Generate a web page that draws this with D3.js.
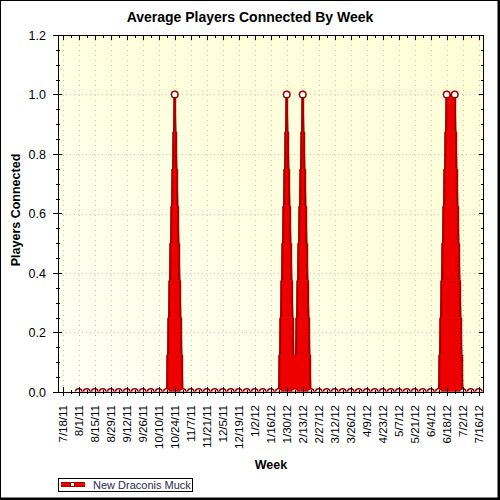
<!DOCTYPE html>
<html lang="en">
<head>
    <meta charset="UTF-8">
    <title>Average Players Connected By Week</title>
    <script src="https://d3js.org/d3.v7.min.js"></script>
    <style>
        body { margin: 0; background: #fff; }
        text { font-family: "Liberation Sans", Arial, sans-serif; }
    </style>
</head>
<body>
    <script>
        // Tick labels on the week axis (every second week)
        const tickLabels = ['7/18/11', '8/1/11', '8/15/11', '8/29/11', '9/12/11', '9/26/11', '10/10/11',
            '10/24/11', '11/7/11', '11/21/11', '12/5/11', '12/19/11', '1/2/12', '1/16/12', '1/30/12',
            '2/13/12', '2/27/12', '3/12/12', '3/26/12', '4/9/12', '4/23/12', '5/7/12', '5/21/12',
            '6/4/12', '6/18/12', '7/2/12', '7/16/12'];

        // Series: one value per week, starting 8/1/11
        const seriesName = 'New Draconis Muck';
        const firstWeek = '8/1/11';
        const players = [
            0, 0, 0, 0, 0, 0, 0, 0, 0, 0, 0, 0, 1,      // 8/1/11 .. 10/24/11
            0, 0, 0, 0, 0, 0, 0, 0, 0, 0, 0, 0, 0, 1,   // .. 1/30/12
            0, 1,                                       // .. 2/13/12
            0, 0, 0, 0, 0, 0, 0, 0, 0, 0, 0, 0, 0, 0, 0, 0, 0, 1, 1, // .. 6/25/12
            0, 0, 0                                     // .. 7/16/12
        ];

        const yTicks = [0, 0.2, 0.4, 0.6, 0.8, 1.0, 1.2];

        const width = 500, height = 500;
        const pLeft = 58, pRight = 484, pTop = 35, pBottom = 392;
        const red = '#ee0000', dark = '#a80000';
        const weekMs = 7 * 24 * 3600 * 1000;

        const parse = d3.utcParse('%m/%d/%y');
        const majorDates = tickLabels.map(parse);
        const start = parse(firstWeek);
        const data = players.map((v, i) => ({ date: d3.utcDay.offset(start, 7 * i), value: v }));
        const t0 = majorDates[0], t1 = majorDates[majorDates.length - 1];
        const minorDates = d3.utcDay.range(t0, d3.utcDay.offset(t1, 1), 7);

        const x = d3.scaleUtc()
            .domain([new Date(+t0 - 0.59 * weekMs), new Date(+t1 + 0.66 * weekMs)])
            .range([pLeft, pRight]);
        const y = d3.scaleLinear().domain([0, 1.2]).range([pBottom, pTop]);

        const svg = d3.select('body').append('svg')
            .attr('width', width)
            .attr('height', height);

        const defs = svg.append('defs');
        const grad = defs.append('linearGradient')
            .attr('id', 'bg')
            .attr('x1', '0%').attr('y1', '100%')
            .attr('x2', '100%').attr('y2', '0%');
        grad.append('stop').attr('offset', '0%').attr('stop-color', '#fffff6');
        grad.append('stop').attr('offset', '55%').attr('stop-color', '#ffffdf');
        grad.append('stop').attr('offset', '100%').attr('stop-color', '#ffffd6');

        defs.append('clipPath').attr('id', 'plot')
            .append('rect')
            .attr('x', pLeft).attr('y', pTop)
            .attr('width', pRight - pLeft).attr('height', pBottom - 0.5 - pTop);

        // outer frame
        svg.append('rect').attr('x', 0).attr('y', 0).attr('width', width).attr('height', height).attr('fill', '#fff');
        svg.append('rect').attr('x', 0.5).attr('y', 0.5).attr('width', 497.5).attr('height', 497.5)
            .attr('fill', 'none').attr('stroke', '#000');
        svg.append('rect').attr('x', 498).attr('y', 0).attr('width', 2).attr('height', 500).attr('fill', '#000');
        svg.append('rect').attr('x', 0).attr('y', 498).attr('width', 500).attr('height', 2).attr('fill', '#000');

        // plot background
        svg.append('rect')
            .attr('x', pLeft).attr('y', pTop)
            .attr('width', pRight - pLeft).attr('height', pBottom - pTop)
            .attr('fill', 'url(#bg)');

        // dotted grid
        svg.append('g').selectAll('line')
            .data(majorDates).enter().append('line')
            .attr('x1', d => Math.round(x(d)) + 0.5).attr('x2', d => Math.round(x(d)) + 0.5)
            .attr('y1', pTop).attr('y2', pBottom)
            .attr('stroke', '#c4c4c4').attr('stroke-dasharray', '1,4');
        svg.append('g').selectAll('line')
            .data(yTicks.slice(1, -1)).enter().append('line')
            .attr('y1', d => Math.round(y(d)) + 0.5).attr('y2', d => Math.round(y(d)) + 0.5)
            .attr('x1', pLeft).attr('x2', pRight)
            .attr('stroke', '#c4c4c4').attr('stroke-dasharray', '1,3');

        const plot = svg.append('g').attr('clip-path', 'url(#plot)');

        // series line
        plot.append('path')
            .datum(data)
            .attr('fill', 'none')
            .attr('stroke', dark)
            .attr('stroke-width', 1.5)
            .attr('d', d3.line().x(d => x(d.date)).y(d => y(d.value)));

        // stepped fill under the line, in horizontal bands
        const bands = 8;
        const pts = data.map(d => [x(d.date), d.value]);
        function above(level) {
            const out = [];
            for (let i = 0; i < pts.length - 1; i++) {
                const [x0, v0] = pts[i], [x1, v1] = pts[i + 1];
                if (Math.max(v0, v1) <= level) continue;
                const xc = x0 + (level - v0) / (v1 - v0) * (x1 - x0);
                const xs = v0 > level ? x0 : xc;
                const xe = v1 > level ? x1 : xc;
                const last = out[out.length - 1];
                if (last && xs <= last[1] + 0.01) last[1] = xe;
                else out.push([xs, xe]);
            }
            return out;
        }
        for (let k = 0; k < bands; k++) {
            const lo = k / bands, hi = (k + 1) / bands;
            const spans = above(lo);
            const g = plot.append('g');
            g.selectAll('rect.o').data(spans).enter().append('rect')
                .attr('x', d => d[0] - 0.5).attr('width', d => d[1] - d[0] + 1)
                .attr('y', y(hi)).attr('height', y(lo) - y(hi))
                .attr('fill', dark);
            g.selectAll('rect.i').data(spans.filter(d => d[1] - d[0] > 3)).enter().append('rect')
                .attr('x', d => d[0] + 1.5).attr('width', d => d[1] - d[0] - 3)
                .attr('y', y(hi)).attr('height', y(lo) - y(hi))
                .attr('fill', red);
        }

        // markers
        plot.selectAll('circle')
            .data(data).enter().append('circle')
            .attr('cx', d => x(d.date)).attr('cy', d => y(d.value))
            .attr('r', 3.3)
            .attr('fill', '#fff')
            .attr('stroke', dark)
            .attr('stroke-width', 1.5);

        // plot frame
        svg.append('rect')
            .attr('x', pLeft + 0.5).attr('y', pTop + 0.5)
            .attr('width', pRight - pLeft - 1).attr('height', pBottom - pTop)
            .attr('fill', 'none').attr('stroke', '#000');

        // ticks
        const tk = svg.append('g').attr('stroke', '#000');
        const isMajor = d => majorDates.some(m => +m === +d);
        minorDates.forEach(d => {
            const px = Math.round(x(d)) + 0.5, m = isMajor(d);
            tk.append('line').attr('x1', px).attr('x2', px)
                .attr('y1', pBottom - (m ? 5 : 2)).attr('y2', pBottom + (m ? 4 : 2));
            tk.append('line').attr('x1', px).attr('x2', px)
                .attr('y1', pTop).attr('y2', pTop + (m ? 5 : 3));
        });
        d3.range(0, 1.2001, 0.05).forEach((v, i) => {
            const py = Math.round(y(v)) + 0.5, m = i % 4 === 0;
            tk.append('line').attr('y1', py).attr('y2', py)
                .attr('x1', pLeft - (m ? 5 : 2)).attr('x2', pLeft + (m ? 4 : 2));
            tk.append('line').attr('y1', py).attr('y2', py)
                .attr('x1', pRight - (m ? 5 : 3)).attr('x2', pRight);
        });

        // tick labels
        svg.append('g').selectAll('text')
            .data(yTicks).enter().append('text')
            .attr('x', 46).attr('y', d => y(d))
            .attr('dy', '0.36em')
            .attr('text-anchor', 'end')
            .attr('font-size', 12.5)
            .text(d3.format('.1f'));

        svg.append('g').selectAll('text')
            .data(majorDates).enter().append('text')
            .attr('transform', (d, i) => `translate(${x(d) + 4},405) rotate(-90)`)
            .attr('text-anchor', 'end')
            .attr('font-size', 11.5)
            .text((d, i) => tickLabels[i]);

        // titles
        svg.append('text')
            .attr('x', 250).attr('y', 22)
            .attr('text-anchor', 'middle')
            .attr('font-size', 14).attr('font-weight', 'bold')
            .text('Average Players Connected By Week');
        svg.append('text')
            .attr('x', 271).attr('y', 469)
            .attr('text-anchor', 'middle')
            .attr('font-size', 12.5).attr('font-weight', 'bold')
            .text('Week');
        svg.append('text')
            .attr('transform', 'translate(20,210) rotate(-90)')
            .attr('text-anchor', 'middle')
            .attr('font-size', 12.5).attr('font-weight', 'bold')
            .text('Players Connected');

        // legend
        const lg = svg.append('g');
        lg.append('rect').attr('x', 58.5).attr('y', 478.5).attr('width', 134).attr('height', 13)
            .attr('fill', '#fff').attr('stroke', '#000');
        lg.append('rect').attr('x', 61).attr('y', 482).attr('width', 24).attr('height', 5).attr('fill', dark);
        lg.append('rect').attr('x', 61).attr('y', 483).attr('width', 24).attr('height', 3).attr('fill', red);
        lg.append('rect').attr('x', 70.5).attr('y', 482.5).attr('width', 4).attr('height', 4)
            .attr('fill', '#fff').attr('stroke', dark);
        lg.append('text').attr('x', 93).attr('y', 488.5)
            .attr('font-size', 11).attr('fill', '#2a2a50')
            .text(seriesName);
    </script>
</body>
</html>
